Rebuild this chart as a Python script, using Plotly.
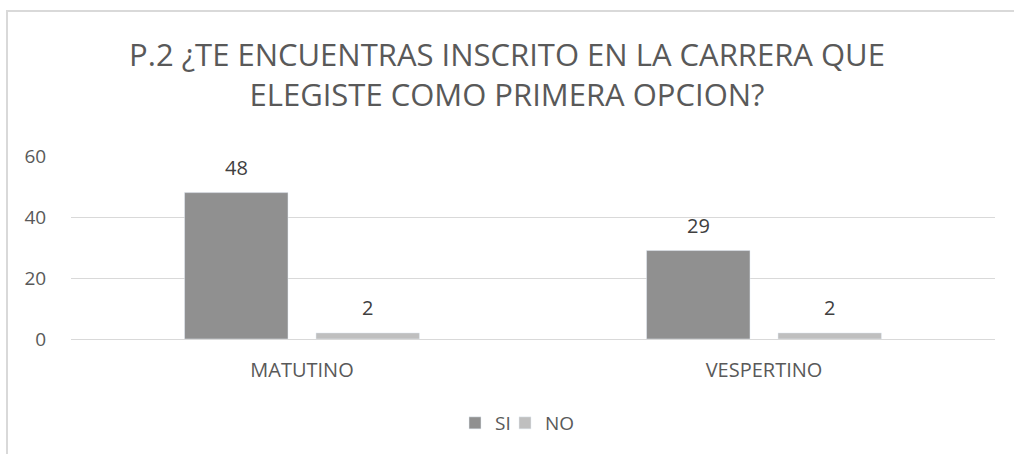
import plotly.graph_objects as go

categories = ["MATUTINO", "VESPERTINO"]
si_values = [48, 29]
no_values = [2, 2]
y_ticks = [0, 20, 40, 60]

FONT = "Open Sans"
TXT = "#595959"

L, R, T, B = 71, 19, 156, 115
W, H = 1014, 454
pw, ph = W - L - R, H - T - B
BARGAP, GROUPGAP = 0.431, 0.213

fig = go.Figure()
fig.add_trace(go.Bar(name="SI", x=categories, y=si_values, marker_color="#909090", legend="legend"))
fig.add_trace(go.Bar(name="NO", x=categories, y=no_values, marker_color="#bfbfbf", legend="legend2"))

# data labels above bars, placed at the grouped bar centres
cat_w = pw / len(categories)
slot = cat_w * (1 - BARGAP) / 2
annotations = []
for vals, off in ((si_values, -slot / 2), (no_values, slot / 2)):
    for c, v in zip(categories, vals):
        annotations.append(dict(x=c, y=v, xref="x", yref="y", text=str(v), showarrow=False,
                                xshift=off, yshift=25, yanchor="middle",
                                font=dict(size=20, color="#404040", family=FONT)))

leg_common = dict(orientation="h", xanchor="left", y=(339 - 423) / ph, yanchor="middle",
                  font=dict(size=19, color=TXT), itemwidth=30, bgcolor="rgba(0,0,0,0)")

fig.update_layout(
    width=W, height=H,
    margin=dict(l=L, r=R, t=T, b=B),
    paper_bgcolor="white", plot_bgcolor="white",
    barmode="group", bargap=BARGAP, bargroupgap=GROUPGAP,
    font=dict(family=FONT, color=TXT),
    title=dict(
        text="P.2 ¿TE ENCUENTRAS INSCRITO EN LA CARRERA QUE<br>ELEGISTE COMO PRIMERA OPCION?",
        x=0.5, xanchor="center", y=1 - 66 / H, yanchor="middle",
        font=dict(size=31, color=TXT, family=FONT),
    ),
    xaxis=dict(showgrid=False, showline=False, ticks="outside", ticklen=13,
               tickcolor="rgba(0,0,0,0)", tickfont=dict(size=20, color=TXT)),
    yaxis=dict(range=[0, 60], tickvals=y_ticks, showgrid=True, gridcolor="#d9d9d9",
               gridwidth=1, zeroline=True, zerolinecolor="#d9d9d9", zerolinewidth=1,
               showline=False, ticks="outside", ticklen=20, tickcolor="rgba(0,0,0,0)",
               tickfont=dict(size=19, color=TXT)),
    legend=dict(x=(455 - L) / pw, **leg_common),
    legend2=dict(x=(505 - L) / pw, **leg_common),
    annotations=annotations,
    shapes=[dict(type="rect", xref="paper", yref="paper",
                 x0=(7 - L) / pw, x1=1.2, y0=-1.0, y1=(H - B - 11) / ph,
                 line=dict(color="#d9d9d9", width=2), fillcolor="rgba(0,0,0,0)", layer="below")],
    showlegend=True,
)
fig.write_html("out.html", config={"displayModeBar": False},
               post_script="document.body.style.margin='0';document.body.style.overflow='hidden';")
